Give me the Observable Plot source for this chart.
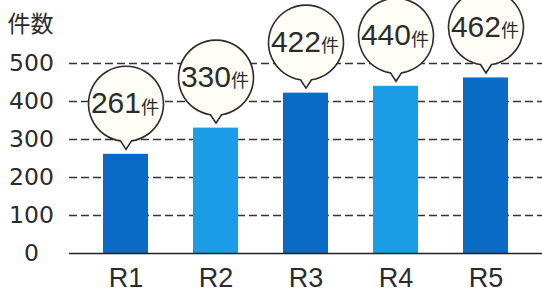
<!DOCTYPE html>
<html><head><meta charset="utf-8">
<script src="https://cdn.jsdelivr.net/npm/d3@7"></script>
<script src="https://cdn.jsdelivr.net/npm/@observablehq/plot@0.6"></script>
<style>body{margin:0;background:#fff}</style>
</head><body><div id="chart"></div>
<script>
const categories = ["R1", "R2", "R3", "R4", "R5"];
const counts = [261, 330, 422, 440, 462];
const shades = ["dark", "light", "dark", "light", "dark"];
const yTicks = [0, 100, 200, 300, 400, 500];
const gridTicks = [100, 200, 300, 400, 500];
const unit = "件";
const yTitle = "件数";

const data = categories.map((c, i) => ({round: c, count: counts[i], shade: shades[i]}));

// speech-bubble symbol: tip at origin, circle above
const bubble = {
  draw(context) {
    const R = 37.5, cy = -45.5, hw = 5.5;
    const by = cy + Math.sqrt(R * R - hw * hw);
    const a1 = Math.atan2(by - cy, hw);
    const a2 = Math.atan2(by - cy, -hw);
    context.moveTo(0, 0);
    context.lineTo(hw, by);
    context.arc(0, cy, R, a1, a2, true);
    context.closePath();
  }
};

const ink = "#2b2b2b";

const chart = Plot.plot({
  width: 542,
  height: 293,
  marginLeft: 69,
  marginRight: 0,
  marginTop: 63,
  marginBottom: 40,
  style: {fontFamily: "DejaVu Sans", color: ink, background: "#fff"},
  x: {domain: categories, paddingInner: 0.5, paddingOuter: 0.36, align: 0.5},
  y: {domain: [0, 500]},
  color: {domain: ["dark", "light"], range: ["#0a6bc6", "#1a9de6"]},
  marks: [
    Plot.ruleY(gridTicks, {stroke: "#333", strokeWidth: 1.4, strokeDasharray: "8,4"}),
    Plot.barY(data, {x: "round", y: "count", fill: "shade"}),
    Plot.ruleY([0], {stroke: "#222", strokeWidth: 1.6}),
    Plot.dot(data, {x: "round", y: "count", dy: -5, r: 38, symbol: bubble, fill: "#fffef6", stroke: ink, strokeWidth: 1.6}),
    Plot.text(data, {x: "round", y: "count", text: d => String(d.count), textAnchor: "end", lineAnchor: "middle", dx: 15, dy: -50.5, fontSize: 30, fontFamily: "Liberation Sans", fill: ink}),
    Plot.text(data, {x: "round", y: "count", text: () => unit, textAnchor: "start", lineAnchor: "middle", dx: 15, dy: -46.5, fontSize: 18, fontFamily: "Noto Sans CJK JP", fill: ink}),
    Plot.axisY(yTicks, {tickSize: 0, tickPadding: 38, textAnchor: "middle", fontSize: 23.5, fontFamily: "DejaVu Sans", label: null, fill: ink}),
    Plot.axisX({tickSize: 0, tickPadding: 14, fontSize: 27, fontFamily: "Liberation Sans", label: null, fill: ink}),
    Plot.text([yTitle], {text: d => d, frameAnchor: "top-left", textAnchor: "start", lineAnchor: "middle", dx: -62, dy: -39, fontSize: 23, fontFamily: "Noto Sans CJK JP", fill: ink})
  ]
});
document.getElementById("chart").appendChild(chart);
</script>
</body></html>
